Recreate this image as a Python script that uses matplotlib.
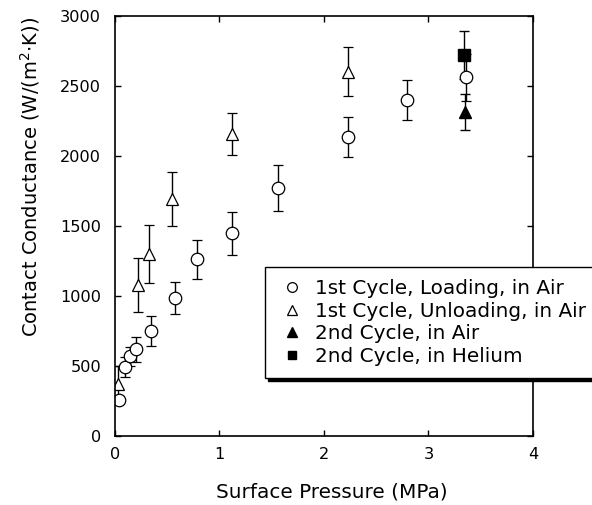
import matplotlib
matplotlib.use('Agg')
import matplotlib.pyplot as plt
from matplotlib.lines import Line2D

plt.rcParams['font.family'] = ['DejaVu Sans']
plt.rcParams['mathtext.fontset'] = 'dejavusans'

# --- Data ---
load_x = [0.04, 0.10, 0.14, 0.20, 0.34, 0.57, 0.78, 1.12, 1.56, 2.23, 2.79, 3.36]
load_y = [255, 491, 565, 615, 745, 982, 1258, 1444, 1766, 2134, 2396, 2559]
load_err = [30, 70, 70, 90, 107, 115, 142, 152, 165, 143, 143, 168]

unload_x = [0.03, 0.22, 0.33, 0.55, 1.12, 2.23]
unload_y = [370, 1075, 1296, 1689, 2154, 2599]
unload_err = [130, 193, 205, 193, 150, 174]

air2_x = [3.35]
air2_y = [2313]
air2_err = [128]

he_x = [3.34]
he_y = [2718]
he_err = [172]

labels = ['1st Cycle, Loading, in Air', '1st Cycle, Unloading, in Air',
          '2nd Cycle, in Air', '2nd Cycle, in Helium']

fig = plt.figure(figsize=(5.92, 5.05), dpi=100)
ax = fig.add_axes([115 / 592, 1 - 435.5 / 505, (533 - 115) / 592, (435.5 - 15.5) / 505])

ebkw = dict(ecolor='black', elinewidth=1.0, capsize=3.5, capthick=1.0, linestyle='none', zorder=2)
ax.errorbar(he_x, he_y, yerr=he_err, marker='s', ms=8, mfc='black', mec='black', **ebkw)
ax.errorbar(air2_x, air2_y, yerr=air2_err, marker='^', ms=9, mfc='black', mec='black', **ebkw)
ax.errorbar(unload_x, unload_y, yerr=unload_err, marker='^', ms=9, mfc='white', mec='black', mew=0.9, **ebkw)
ax.errorbar(load_x, load_y, yerr=load_err, marker='o', ms=9, mfc='white', mec='black', mew=0.9, **ebkw)

ax.set_xlim(0, 4)
ax.set_ylim(0, 3000)
ax.set_xticks([0, 1, 2, 3, 4])
ax.set_yticks([0, 500, 1000, 1500, 2000, 2500, 3000])
ax.tick_params(direction='in', length=4.5, width=1, top=True, right=True, labelsize=11.6)
ax.tick_params(axis='y', pad=10)
ax.tick_params(axis='x', pad=8)
for s in ax.spines.values():
    s.set_linewidth(1.2)

ax.set_xlabel('Surface Pressure (MPa)', fontsize=14.4)
ax.xaxis.set_label_coords(0.519, -0.112)
ax.set_ylabel('Contact Conductance (W/(m$^2$$\\cdot$K))', fontsize=14)
ax.yaxis.set_label_coords(-0.175, 0.615)

handles = [
    Line2D([], [], marker='o', ms=7, mfc='white', mec='black', mew=0.9, ls='none'),
    Line2D([], [], marker='^', ms=7, mfc='white', mec='black', mew=0.9, ls='none'),
    Line2D([], [], marker='^', ms=7, mfc='black', mec='black', ls='none'),
    Line2D([], [], marker='s', ms=6, mfc='black', mec='black', ls='none'),
]
leg = ax.legend(handles, labels, loc='upper left', bbox_to_anchor=(265 / 592, 1 - 267 / 505),
                bbox_transform=fig.transFigure, borderaxespad=0, fontsize=14.4,
                frameon=True, fancybox=False, edgecolor='black', framealpha=1,
                shadow={'color': 'black', 'alpha': 1}, handlelength=1.5, handletextpad=0.38,
                labelspacing=0.17, borderpad=0.62)
leg.get_frame().set_linewidth(1.0)
leg.set_zorder(5)

fig.savefig('out.png', dpi=100)
